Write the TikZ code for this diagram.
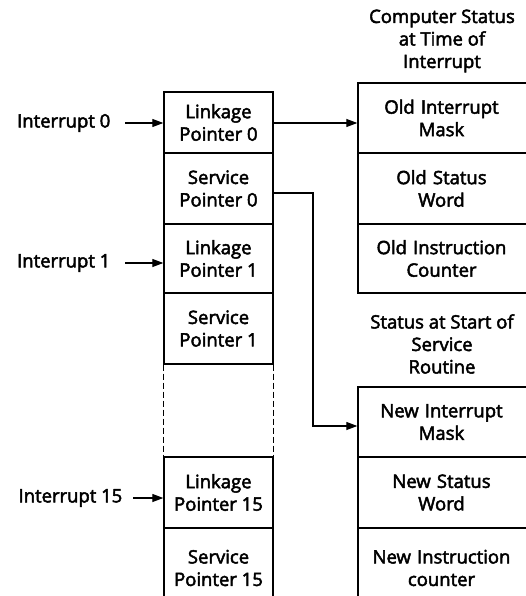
\documentclass[tikz,border=0pt]{standalone}
\usepackage{fontspec}
\setmainfont{Open Sans}[FakeBold=2.6]
\usetikzlibrary{arrows.meta}
\begin{document}
\begin{tikzpicture}[x=1pt,y=-1pt,
  line width=1.4pt,
  txt/.style={font=\fontsize{18.5}{22.5}\selectfont, align=center, inner sep=0pt},
  cell/.style={draw, txt, minimum width=109pt, inner sep=0pt},
  rcell/.style={draw, txt, minimum width=180pt, text width=180pt, inner sep=0pt},
  arr/.style={-{Triangle[length=11pt,width=8pt]}, line width=1.2pt}]
\useasboundingbox (0,0) rectangle (526,596);
\clip (0,0) rectangle (526,596);
% left column
\node[cell, minimum height=61pt] (L0) at (218.5,122.5) {Linkage\\Pointer 0};
\node[cell, minimum height=71pt] (S0) at (218.5,188.5) {Service\\Pointer 0};
\node[cell, minimum height=69pt] (L1) at (218.5,258.5) {Linkage\\Pointer 1};
\node[cell, minimum height=71pt] (S1) at (218.5,328.5) {Service\\Pointer 1};
\node[cell, minimum height=71pt] (L15) at (218.5,492.5) {Linkage\\Pointer 15};
\node[cell, minimum height=80pt] (S15) at (218.5,568) {Service\\Pointer 15};
\draw[dash pattern=on 6pt off 3pt] (S1.south west) -- (L15.north west);
\draw[dash pattern=on 6pt off 3pt] (S1.south east) -- (L15.north east);
% right column
\node[txt] (H1) at (442,41) {Computer Status\\at Time of\\Interrupt};
\node[rcell, minimum height=70pt] (OIM) at (448,118) {\hspace*{-13pt}Old Interrupt\\\hspace*{-13pt}Mask};
\node[rcell, minimum height=71pt] (OSW) at (448,188.5) {\hspace*{-13pt}Old Status\\\hspace*{-13pt}Word};
\node[rcell, minimum height=69pt] (OIC) at (448,258.5) {\hspace*{-13pt}Old Instruction\\\hspace*{-13pt}Counter};
\node[txt] (H2) at (442,344) {Status at Start of\\Service\\Routine};
\node[rcell, minimum height=70pt] (NIM) at (448,422) {\hspace*{-13pt}New Interrupt\\\hspace*{-13pt}Mask};
\node[rcell, minimum height=71pt] (NSW) at (448,492.5) {\hspace*{-13pt}New Status\\\hspace*{-13pt}Word};
\node[rcell, minimum height=80pt] (NIC) at (448,568) {\hspace*{-13pt}New Instruction\\\hspace*{-13pt}counter};
% interrupt labels
\node[txt, anchor=east] (I0) at (111,123) {Interrupt 0};
\node[txt, anchor=east] (I1) at (111,263) {Interrupt 1};
\node[txt, anchor=east] (I15) at (123,498) {Interrupt 15};
\draw[arr] ([xshift=14pt]I0.east) -- (L0.west |- I0.east);
\draw[arr] ([xshift=14pt]I1.east) -- (L1.west |- I1.east);
\draw[arr] ([xshift=10pt]I15.east) -- (L15.west |- I15.east);
% connectors
\draw[arr] (L0.east |- I0.east) -- (OIM.west |- I0.east);
\coordinate (bend) at (313,426);
\draw[arr] ([yshift=-4.5pt]S0.east) -| (bend) -- (NIM.west |- bend);
\end{tikzpicture}
\end{document}
